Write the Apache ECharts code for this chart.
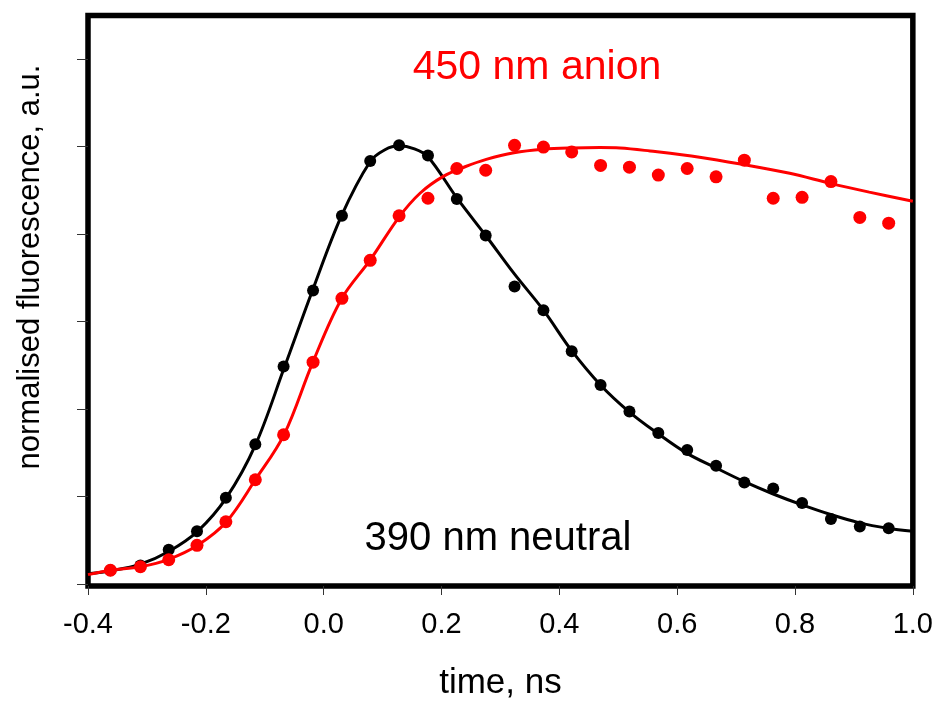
<!DOCTYPE html>
<html>
<head>
<meta charset="utf-8">
<script src="https://cdn.jsdelivr.net/npm/echarts@6/dist/echarts.min.js"></script>
<style>html,body{margin:0;padding:0;background:#fff}#c{width:936px;height:706px}</style>
</head>
<body>
<div id="c"></div>
<script>
// Data
var dotTimes = [-0.362, -0.311, -0.263, -0.215, -0.166, -0.116, -0.068, -0.018, 0.031, 0.079, 0.128, 0.177, 0.226, 0.275, 0.324, 0.373, 0.421, 0.470, 0.519, 0.568, 0.617, 0.666, 0.714, 0.763, 0.812, 0.861, 0.910, 0.959];
var neutralDots = [0.031, 0.042, 0.078, 0.120, 0.197, 0.319, 0.497, 0.671, 0.842, 0.967, 1.003, 0.980, 0.880, 0.797, 0.680, 0.626, 0.532, 0.455, 0.394, 0.345, 0.306, 0.270, 0.232, 0.218, 0.185, 0.148, 0.131, 0.127];
var anionDots = [0.031, 0.039, 0.055, 0.088, 0.142, 0.238, 0.341, 0.507, 0.653, 0.740, 0.842, 0.882, 0.950, 0.946, 1.003, 0.999, 0.988, 0.957, 0.953, 0.935, 0.950, 0.931, 0.969, 0.882, 0.884, 0.920, 0.838, 0.825];

var neutralFitT = [-0.4, -0.360, -0.311, -0.263, -0.214, -0.165, -0.116, -0.067, -0.019, 0.030, 0.079, 0.104, 0.128, 0.154, 0.177, 0.227, 0.276, 0.323, 0.373, 0.420, 0.469, 0.518, 0.567, 0.616, 0.666, 0.715, 0.762, 0.811, 0.859, 0.908, 0.957, 1.0];
var neutralFitV = [0.023, 0.030, 0.045, 0.074, 0.120, 0.197, 0.317, 0.494, 0.671, 0.841, 0.966, 0.993, 1.002, 0.995, 0.977, 0.881, 0.795, 0.710, 0.626, 0.535, 0.456, 0.394, 0.344, 0.299, 0.265, 0.233, 0.206, 0.181, 0.159, 0.140, 0.127, 0.120];

var anionFitT = [-0.4, -0.362, -0.311, -0.263, -0.214, -0.165, -0.116, -0.067, -0.019, 0.030, 0.079, 0.128, 0.164, 0.203, 0.240, 0.276, 0.323, 0.373, 0.421, 0.469, 0.503, 0.554, 0.638, 0.713, 0.791, 0.860, 0.926, 1.0];
var anionFitV = [0.021, 0.031, 0.039, 0.056, 0.088, 0.142, 0.238, 0.342, 0.505, 0.651, 0.741, 0.839, 0.894, 0.932, 0.954, 0.971, 0.986, 0.994, 0.997, 0.998, 0.997, 0.990, 0.976, 0.959, 0.939, 0.916, 0.896, 0.875];

var xTicks = [-0.4, -0.2, 0.0, 0.2, 0.4, 0.6, 0.8, 1.0];
var yTicks = [0, 0.2, 0.4, 0.6, 0.8, 1.0, 1.2];

var labelNeutral = '390 nm neutral';
var labelAnion = '450 nm anion';
var xName = 'time, ns';
var yName = 'normalised fluorescence, a.u.';

function zip(a, b) { return a.map(function (v, i) { return [v, b[i]]; }); }

var FONT = "'Liberation Sans', Arial, sans-serif";
var chart = echarts.init(document.getElementById('c'), null, {renderer: 'canvas'});
chart.setOption({
  animation: false,
  backgroundColor: '#fff',
  grid: {left: 88, right: 21, top: 15.5, bottom: 116, show: true, borderColor: '#000', borderWidth: 5.5, backgroundColor: 'transparent', containLabel: false},
  xAxis: {
    type: 'value', min: xTicks[0], max: xTicks[xTicks.length - 1], interval: 0.2,
    axisLine: {show: false, onZero: false},
    axisTick: {show: true, inside: false, length: 9, lineStyle: {color: '#333', width: 1}},
    splitLine: {show: false},
    axisLabel: {margin: 24, fontSize: 29, fontFamily: FONT, color: '#000', formatter: function (v) { return v.toFixed(1); }},
    name: xName, nameLocation: 'middle', nameGap: 80,
    nameTextStyle: {fontSize: 35, fontFamily: FONT, color: '#000'}
  },
  yAxis: {
    type: 'value', min: -0.005, max: 1.3,
    axisLine: {show: false, onZero: false},
    axisTick: {show: true, inside: false, length: 11, customValues: yTicks, lineStyle: {color: '#333', width: 1}},
    axisLabel: {show: false},
    splitLine: {show: false}
  },
  graphic: [
    {type: 'text', x: 30, y: 267, rotation: Math.PI / 2, style: {text: yName, fontSize: 31, fontFamily: FONT, fill: '#000', textAlign: 'center', textVerticalAlign: 'middle'}},
    {type: 'text', x: 537, y: 68, style: {text: labelAnion, fontSize: 41, fontFamily: FONT, fill: '#ff0000', textAlign: 'center', textVerticalAlign: 'middle'}},
    {type: 'text', x: 498, y: 539, style: {text: labelNeutral, fontSize: 40, fontFamily: FONT, fill: '#000', textAlign: 'center', textVerticalAlign: 'middle'}}
  ],
  series: [
    {type: 'line', data: zip(neutralFitT, neutralFitV), smooth: 0.35, showSymbol: false, lineStyle: {color: '#000', width: 3}, z: 2},
    {type: 'scatter', data: zip(dotTimes, neutralDots), symbol: 'circle', symbolSize: 12, itemStyle: {color: '#000', opacity: 1}, z: 3},
    {type: 'line', data: zip(anionFitT, anionFitV), smooth: 0.35, showSymbol: false, lineStyle: {color: '#ff0000', width: 3}, z: 4},
    {type: 'scatter', data: zip(dotTimes, anionDots), symbol: 'circle', symbolSize: 13, itemStyle: {color: '#ff0000', opacity: 1}, z: 5}
  ]
});
</script>
</body>
</html>
